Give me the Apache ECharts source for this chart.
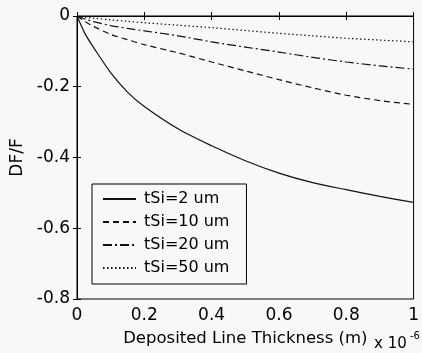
<!DOCTYPE html>
<html>
<head>
<meta charset="utf-8">
<script src="https://cdn.jsdelivr.net/npm/echarts@6/dist/echarts.min.js"></script>
<style>
  html, body { margin: 0; padding: 0; background: #f8f8f8; }
  #chart { width: 422px; height: 353px; }
</style>
</head>
<body>
<div id="chart"></div>
<script>
// thickness (x 1e-6 m)
const thickness = [0, 0.025, 0.05, 0.1, 0.15, 0.2, 0.3, 0.4, 0.5, 0.6, 0.7, 0.8, 0.9, 1.0];

// DF/F for each silicon thickness
const tSi2 = [0, -0.052, -0.09, -0.16, -0.215, -0.256, -0.319, -0.367, -0.409, -0.444, -0.471, -0.491, -0.51, -0.527];
const tSi10 = [0, -0.016, -0.03, -0.052, -0.067, -0.081, -0.104, -0.13, -0.155, -0.18, -0.203, -0.224, -0.239, -0.25];
const tSi20 = [0, -0.009, -0.016, -0.027, -0.035, -0.042, -0.056, -0.073, -0.088, -0.102, -0.117, -0.13, -0.141, -0.15];
const tSi50 = [0, -0.004, -0.006, -0.011, -0.015, -0.019, -0.026, -0.033, -0.041, -0.049, -0.056, -0.063, -0.068, -0.073];

const seriesNames = ['tSi=2 um', 'tSi=10 um', 'tSi=20 um', 'tSi=50 um'];
const xTicks = [0, 0.2, 0.4, 0.6, 0.8, 1];
const yTicks = [-0.8, -0.6, -0.4, -0.2, 0];

const chart = echarts.init(document.getElementById('chart'));

const font = 'DejaVu Sans, sans-serif';
const pair = (ys) => thickness.map((x, i) => [x, ys[i]]);

const dashes = ['solid', [6, 4], [9, 3, 2, 3], [1.5, 2.5]];
const values = [tSi2, tSi10, tSi20, tSi50];

const tickStyle = { show: true, inside: true, length: 4, lineStyle: { color: '#000' } };

chart.setOption({
  backgroundColor: '#f8f8f8',
  animation: false,
  textStyle: { fontFamily: font, color: '#000' },
  grid: {
    left: 77, right: 3, top: 16, bottom: 54,
    show: true, borderColor: '#000', borderWidth: 1, backgroundColor: 'transparent'
  },
  legend: {
    left: 92, top: 184,
    orient: 'vertical',
    data: seriesNames,
    backgroundColor: '#f8f8f8',
    borderColor: '#000', borderWidth: 1,
    padding: [7, 17, 8, 10],
    itemGap: 7,
    itemWidth: 33, itemHeight: 12,
    itemStyle: { opacity: 0 },
    textStyle: { fontSize: 16, fontFamily: font, color: '#000', padding: [0, 0, 0, 3] }
  },
  xAxis: [{
    type: 'value', min: 0, max: 1, interval: 0.2,
    name: 'Deposited Line Thickness (m)',
    nameLocation: 'middle', nameGap: 31,
    nameTextStyle: { fontSize: 16.5, color: '#000' },
    axisLine: { show: true, lineStyle: { color: '#000' } },
    axisTick: tickStyle,
    axisLabel: { fontSize: 17, color: '#000', margin: 8,
      formatter: (v) => xTicks.includes(+v.toFixed(1)) ? String(+v.toFixed(1)) : '' },
    splitLine: { show: false }
  }, {
    type: 'value', min: 0, max: 1, interval: 0.2, position: 'top',
    axisLine: { show: true, lineStyle: { color: '#000' } },
    axisTick: tickStyle, axisLabel: { show: false }, splitLine: { show: false }
  }],
  yAxis: [{
    type: 'value', min: -0.8, max: 0, interval: 0.2,
    name: 'DF/F',
    nameLocation: 'middle', nameGap: 47, nameRotate: 90,
    nameTextStyle: { fontSize: 17, color: '#000' },
    axisLine: { show: true, lineStyle: { color: '#000' } },
    axisTick: tickStyle,
    axisLabel: { fontSize: 17, color: '#000', margin: 7,
      formatter: (v) => yTicks.includes(+v.toFixed(1)) ? String(+v.toFixed(1)) : '' },
    splitLine: { show: false }
  }, {
    type: 'value', min: -0.8, max: 0, interval: 0.2, position: 'right',
    axisLine: { show: true, lineStyle: { color: '#000' } },
    axisTick: tickStyle, axisLabel: { show: false }, splitLine: { show: false }
  }],
  graphic: [
    { type: 'text', left: 374, top: 337, style: { text: 'x 10', fontSize: 15, fontFamily: font, fill: '#000' } },
    { type: 'text', left: 410, top: 331, style: { text: '-6', fontSize: 10, fontFamily: font, fill: '#000' } }
  ],
  series: seriesNames.map((name, i) => ({
    name: name,
    type: 'line',
    data: pair(values[i]),
    smooth: 0.3,
    symbol: 'none',
    lineStyle: { color: '#111', width: 1.2, type: dashes[i] },
    itemStyle: { color: '#111' }
  }))
});
</script>
</body>
</html>
